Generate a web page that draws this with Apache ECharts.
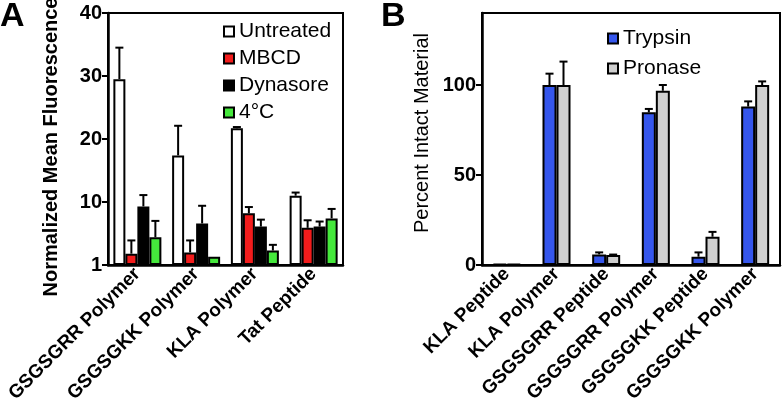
<!DOCTYPE html>
<html>
<head>
<meta charset="utf-8">
<script src="https://cdn.jsdelivr.net/npm/echarts@6/dist/echarts.min.js"></script>
<style>html,body{margin:0;padding:0;background:#fff}#c{width:783px;height:407px}</style>
</head>
<body>
<div id="c"></div>
<script>
// Panel A
const catsA = ['GSGSGRR Polymer', 'GSGSGKK Polymer', 'KLA Polymer', 'Tat Peptide'];
const seriesNamesA = ['Untreated', 'MBCD', 'Dynasore', '4°C'];
const untreated = [29.5, 17.4, 21.7, 11.0];
const untreatedErr = [5.0, 4.7, 0.2, 0.5];
const mbcd = [1.8, 2.0, 8.2, 5.9];
const mbcdErr = [2.1, 1.9, 1.0, 1.2];
const dynasore = [9.3, 6.6, 6.1, 6.1];
const dynasoreErr = [1.8, 2.8, 1.1, 0.8];
const cold = [4.4, 1.3, 2.3, 7.4];
const coldErr = [2.6, 0, 0.9, 1.5];
const ticksA = [0, 10, 20, 30, 40];
const tickLabelsA = ['1', '10', '20', '30', '40'];

// Panel B
const catsB = ['KLA Peptide', 'KLA Polymer', 'GSGSGRR Peptide', 'GSGSGRR Polymer', 'GSGSGKK Peptide', 'GSGSGKK Polymer'];
const seriesNamesB = ['Trypsin', 'Pronase'];
const trypsin = [0.6, 100, 5.9, 84.8, 4.6, 88.0];
const trypsinErr = [0, 6.3, 1.1, 1.9, 2.4, 2.9];
const pronase = [0.6, 100, 5.5, 96.8, 15.7, 100];
const pronaseErr = [0, 13, 0.3, 3.2, 2.7, 2.0];

const colorsA = ['#ffffff', '#f21c1c', '#000000', '#45e83c'];
const colorsB = ['#3556ec', '#cfcfcf'];

const FONT = 'Liberation Sans, Arial, sans-serif';

function errRender(n, idx, barW, capHalf) {
  return function (params, api) {
    const cat = api.value(0), v = api.value(1), e = api.value(2);
    if (!e) return null;
    const p0 = api.coord([cat, v]);
    const p1 = api.coord([cat, v + e]);
    const x = p0[0] + (idx - (n - 1) / 2) * barW;
    return {
      type: 'group',
      children: [
        { type: 'line', shape: { x1: x, y1: p0[1], x2: x, y2: p1[1] }, style: { stroke: '#000', lineWidth: 2 } },
        { type: 'line', shape: { x1: x - capHalf, y1: p1[1], x2: x + capHalf, y2: p1[1] }, style: { stroke: '#000', lineWidth: 2 } }
      ]
    };
  };
}

const barWA = 12, barWB = 14;
const valsA = [untreated, mbcd, dynasore, cold];
const errsA = [untreatedErr, mbcdErr, dynasoreErr, coldErr];
const valsB = [trypsin, pronase];
const errsB = [trypsinErr, pronaseErr];

const series = [];
seriesNamesA.forEach((name, i) => {
  series.push({
    name, type: 'bar', xAxisIndex: 0, yAxisIndex: 0, data: valsA[i], barWidth: barWA, barGap: '0%',
    itemStyle: { color: colorsA[i], borderColor: '#000', borderWidth: 2 }, z: 3
  });
});
seriesNamesA.forEach((name, i) => {
  series.push({
    type: 'custom', xAxisIndex: 0, yAxisIndex: 0,
    data: valsA[i].map((v, k) => [k, v, errsA[i][k]]),
    encode: { x: 0, y: 1 }, renderItem: errRender(4, i, barWA, 4), z: 2
  });
});
seriesNamesB.forEach((name, i) => {
  series.push({
    name, type: 'bar', xAxisIndex: 1, yAxisIndex: 1, data: valsB[i], barWidth: barWB, barGap: '0%',
    itemStyle: { color: colorsB[i], borderColor: '#000', borderWidth: 2 }, z: 3
  });
});
seriesNamesB.forEach((name, i) => {
  series.push({
    type: 'custom', xAxisIndex: 1, yAxisIndex: 1,
    data: valsB[i].map((v, k) => [k, v, errsB[i][k]]),
    encode: { x: 0, y: 1 }, renderItem: errRender(2, i, barWB, 4), z: 2
  });
});

const xAxisCommon = {
  type: 'category',
  axisLine: { lineStyle: { color: '#000', width: 2.5 } },
  axisTick: { show: false },
  axisLabel: { rotate: 45, interval: 0, color: '#000', fontFamily: FONT, fontWeight: 'bold', fontSize: 19, margin: 6 }
};

const chart = echarts.init(document.getElementById('c'), null, { renderer: 'canvas' });
chart.setOption({
  animation: false,
  backgroundColor: '#fff',
  textStyle: { fontFamily: FONT },
  grid: [
    { left: 108, right: 440, top: 13, bottom: 142, show: true, borderColor: '#000', borderWidth: 2, containLabel: false, outerBoundsMode: 'none' },
    { left: 482, right: 3, top: 13, bottom: 142, show: true, borderColor: '#000', borderWidth: 2, containLabel: false, outerBoundsMode: 'none' }
  ],
  xAxis: [
    Object.assign({}, xAxisCommon, { gridIndex: 0, data: catsA }),
    Object.assign({}, xAxisCommon, { gridIndex: 1, data: catsB })
  ],
  yAxis: [
    {
      type: 'value', gridIndex: 0, min: 0, max: 40, interval: 10,
      name: 'Normalized Mean Fluorescence', nameLocation: 'middle', nameGap: 47,
      nameTextStyle: { color: '#000', fontFamily: FONT, fontSize: 20, fontWeight: 'bold', padding: [0, 16, 0, 0] },
      axisLine: { show: true, lineStyle: { color: '#000', width: 2.5 } },
      axisTick: { show: true, length: 6, lineStyle: { color: '#000', width: 2 } },
      splitLine: { show: false },
      axisLabel: {
        color: '#000', fontFamily: FONT, fontWeight: 'bold', fontSize: 20, margin: 6,
        formatter: v => { const k = ticksA.indexOf(v); return k >= 0 ? tickLabelsA[k] : ''; }
      }
    },
    {
      type: 'value', gridIndex: 1, min: 0, max: 140, interval: 50,
      name: 'Percent Intact Material', nameLocation: 'middle', nameGap: 50,
      nameTextStyle: { color: '#000', fontFamily: FONT, fontSize: 20, padding: [0, 0, 0, 12] },
      axisLine: { show: true, lineStyle: { color: '#000', width: 2.5 } },
      axisTick: { show: true, length: 6, lineStyle: { color: '#000', width: 2 } },
      splitLine: { show: false },
      axisLabel: {
        color: '#000', fontFamily: FONT, fontWeight: 'bold', fontSize: 20, margin: 6, showMaxLabel: false,
        formatter: v => (v % 50 === 0 ? String(v) : '')
      }
    }
  ],
  legend: [
    {
      data: seriesNamesA, orient: 'vertical', left: 218, top: 16, itemGap: 6,
      icon: 'rect', itemWidth: 10, itemHeight: 10,
      textStyle: { color: '#000', fontFamily: FONT, fontSize: 21 }
    },
    {
      data: seriesNamesB, orient: 'vertical', left: 602, top: 23, itemGap: 9,
      icon: 'rect', itemWidth: 10, itemHeight: 10,
      textStyle: { color: '#000', fontFamily: FONT, fontSize: 21 }
    }
  ],
  graphic: [
    { type: 'text', left: 0, top: 0, style: { text: 'A', font: 'bold 34px ' + FONT, fill: '#000' } },
    { type: 'text', left: 381, top: 0, style: { text: 'B', font: 'bold 34px ' + FONT, fill: '#000' } }
  ],
  series
});
</script>
</body>
</html>
